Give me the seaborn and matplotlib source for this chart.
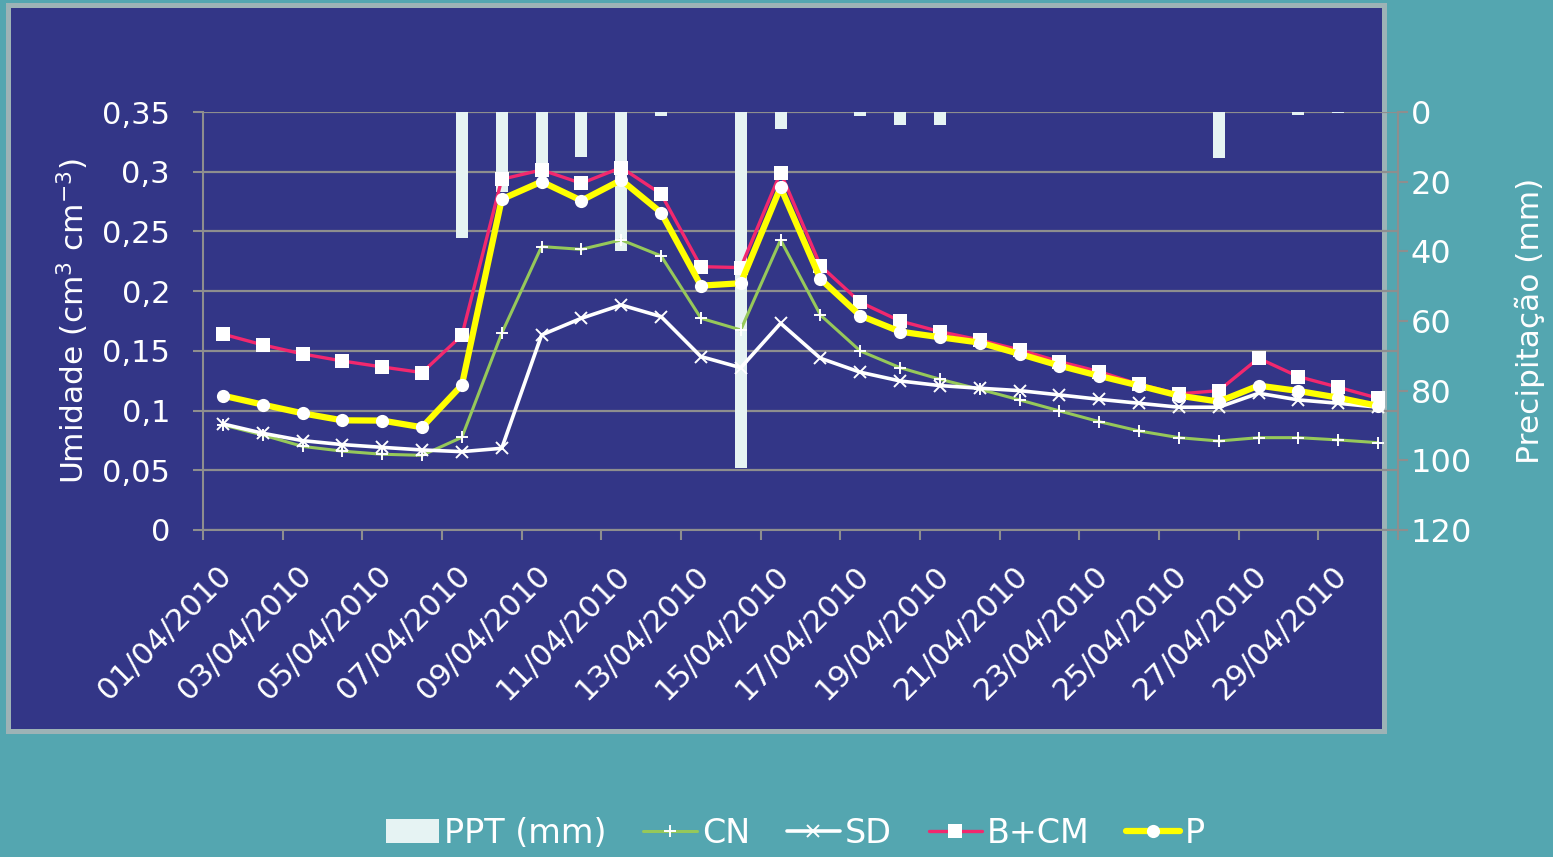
import numpy as np
import pandas as pd
import matplotlib
matplotlib.use("Agg")
import matplotlib.pyplot as plt
from matplotlib.patches import Rectangle, Patch
import matplotlib.transforms as mtransforms
import seaborn as sns

# ---- data -------------------------------------------------------------
datas = list(pd.date_range("2010-04-01", periods=30).strftime("%d/%m/%Y"))

ppt = [0, 0, 0, 0, 0, 0, 36.3, 23, 17, 13, 39.8, 1.2, 0, 102.3, 5,
       0, 1.2, 3.7, 3.7, 0, 0, 0, 0, 0, 0, 13.3, 0, 0.9, 0.3, 0]

cn = [0.088, 0.0795, 0.070, 0.066, 0.0634, 0.0625, 0.0776, 0.1647, 0.2373, 0.235,
      0.2429, 0.2295, 0.1773, 0.1675, 0.2429, 0.180, 0.1499, 0.1359, 0.1262, 0.1178,
      0.1089, 0.0997, 0.0907, 0.0829, 0.0773, 0.0745, 0.0773, 0.0773, 0.0754, 0.0731]

sd = [0.0888, 0.081, 0.0748, 0.0715, 0.0692, 0.067, 0.0656, 0.0684, 0.1633, 0.1773,
      0.1884, 0.1787, 0.1452, 0.1359, 0.1731, 0.1438, 0.1321, 0.1248, 0.1209, 0.1187,
      0.1167, 0.1131, 0.1094, 0.1061, 0.1028, 0.1028, 0.1145, 0.1089, 0.1061, 0.1028]

bcm = [0.164, 0.155, 0.1474, 0.1415, 0.1365, 0.1318, 0.163, 0.2937, 0.3015, 0.2903,
       0.3035, 0.2814, 0.2205, 0.2197, 0.2993, 0.2214, 0.1907, 0.175, 0.1661, 0.1591,
       0.1508, 0.141, 0.1326, 0.122, 0.1139, 0.1167, 0.1438, 0.1284, 0.1195, 0.1103]

p = [0.1125, 0.105, 0.0977, 0.0918, 0.0916, 0.086, 0.1214, 0.277, 0.2917, 0.2758,
     0.2931, 0.2658, 0.2046, 0.2066, 0.287, 0.2102, 0.1795, 0.1661, 0.1614, 0.1569,
     0.1474, 0.1376, 0.129, 0.1209, 0.1125, 0.1075, 0.1209, 0.1164, 0.1108, 0.1039]

umid_ticks = [0, 0.05, 0.1, 0.15, 0.2, 0.25, 0.3, 0.35]
umid_labels = ["0", "0,05", "0,1", "0,15", "0,2", "0,25", "0,3", "0,35"]
ppt_ticks = [0, 20, 40, 60, 80, 100, 120]

df = pd.DataFrame({"dia": np.arange(len(datas)), "data": datas, "PPT": ppt,
                   "CN": cn, "SD": sd, "B+CM": bcm, "P": p})

# ---- style ------------------------------------------------------------
TEAL = "#54A6B0"
NAVY = "#333687"
BORDER = "#9DB3B6"
GRID = "#8E8E8E"
BAR = "#E6F3F3"
GREEN = "#96C85A"
PINK = "#F2286E"
YELLOW = "#FFFF00"
WHITE = "white"

sns.set_theme(style="white")
plt.rcParams["font.family"] = ["DejaVu Sans"]
plt.rcParams["text.color"] = WHITE

fig = plt.figure(figsize=(15.53, 8.57), dpi=100)
fig.patch.set_facecolor(TEAL)

# dark chart panel with a light border
fig.add_artist(Rectangle((0.00547, 0.1476), 0.886, 0.846, transform=fig.transFigure,
                         facecolor=NAVY, edgecolor=BORDER, lw=3.6, zorder=0))

rect = [0.1307, 0.3816, 0.7695, 0.4877]
xlim = (-0.5, len(datas) - 0.5)

# horizontal grid (beneath the bars)
ax_grid = fig.add_axes(rect, zorder=1)
ax_grid.set_facecolor("none")
ax_grid.set_xlim(*xlim)
ax_grid.set_ylim(0, 0.35)
ax_grid.set_yticks(umid_ticks)
ax_grid.set_xticks([])
ax_grid.tick_params(length=0, labelleft=False, labelbottom=False)
ax_grid.grid(axis="y", color=GRID, lw=1.6)
for s in ax_grid.spines.values():
    s.set_visible(False)

# precipitation bars on the inverted right axis
ax_bar = fig.add_axes(rect, zorder=2)
ax_bar.set_facecolor("none")
sns.barplot(data=df, x="dia", y="PPT", ax=ax_bar, color=BAR, saturation=1,
            width=0.3, errorbar=None, linewidth=0)
ax_bar.set_xlim(*xlim)
ax_bar.set_ylim(120, 0)
ax_bar.set_yticks(ppt_ticks)
ax_bar.set_xticks([])
ax_bar.set_xlabel("")
ax_bar.yaxis.tick_right()
ax_bar.yaxis.set_label_position("right")
ax_bar.tick_params(axis="y", direction="out", length=7.2, width=1.5, color=GRID,
                   labelsize=23, labelcolor=WHITE, pad=2, right=True, left=False)
for name, s in ax_bar.spines.items():
    s.set_visible(name == "right")
ax_bar.spines["right"].set_color(GRID)
ax_bar.spines["right"].set_linewidth(1.5)
ax_bar.set_ylabel("Precipitação (mm)", fontsize=22.5, color=WHITE)
ax_bar.yaxis.set_label_coords(1.098, 0.5)

# soil moisture series
ax = fig.add_axes(rect, zorder=3)
ax.set_facecolor("none")
series = [
    ("CN", GREEN, 2.2, "+", 9, 1.4),
    ("SD", WHITE, 2.6, "x", 8, 1.4),
    ("B+CM", PINK, 2.4, "s", 9.5, 0),
    ("P", YELLOW, 4.5, "o", 9.5, 0),
]
for name, col, lw, mk, ms, mew in series:
    sns.lineplot(data=df, x="dia", y=name, ax=ax, color=col, lw=lw, marker=mk,
                 markersize=ms, markerfacecolor=WHITE, markeredgecolor=WHITE,
                 markeredgewidth=mew, label=name, legend=False)

ax.set_xlim(*xlim)
ax.set_ylim(0, 0.35)
ax.set_yticks(umid_ticks, umid_labels)
ax.set_xticks(df["dia"][::2], df["data"][::2])
ax.set_xticks(np.arange(-0.5, len(datas), 2), minor=True)
ax.tick_params(axis="y", direction="out", length=7.2, width=1.5, color=GRID,
               labelsize=22, labelcolor=WHITE, pad=16.5, left=True)
ax.tick_params(axis="x", which="major", length=0, labelsize=22, labelcolor=WHITE,
               pad=22, bottom=True)
ax.tick_params(axis="x", which="minor", direction="out", length=7.2, width=1.5,
               color=GRID, bottom=True)
shift = mtransforms.ScaledTranslation(-6 / 100, 0, fig.dpi_scale_trans)
for lab in ax.get_xticklabels():
    lab.set_rotation(45)
    lab.set_ha("right")
    lab.set_va("top")
    lab.set_rotation_mode("anchor")
    lab.set_transform(lab.get_transform() + shift)
for name, s in ax.spines.items():
    s.set_visible(name in ("left", "bottom"))
    s.set_color(GRID)
    s.set_linewidth(1.5)
ax.set_xlabel("")
ax.set_ylabel(r"Umidade (cm$\mathregular{^{3}}$ cm$\mathregular{^{-3}}$)",
              fontsize=22.5, color=WHITE)
ax.yaxis.set_label_coords(-0.0935, 0.5)

# legend along the bottom
handles = [Patch(facecolor=BAR, edgecolor="none")] + ax.get_lines()[:4]
labels = ["PPT (mm)", "CN", "SD", "B+CM", "P"]
fig.legend(handles, labels, loc="center", bbox_to_anchor=(0.5122, 0.028), ncol=5,
           frameon=False, fontsize=24, handlelength=1.6, handletextpad=0.15,
           columnspacing=1.1, labelcolor=WHITE, numpoints=1)

fig.savefig("out.png", dpi=100, facecolor=TEAL)
